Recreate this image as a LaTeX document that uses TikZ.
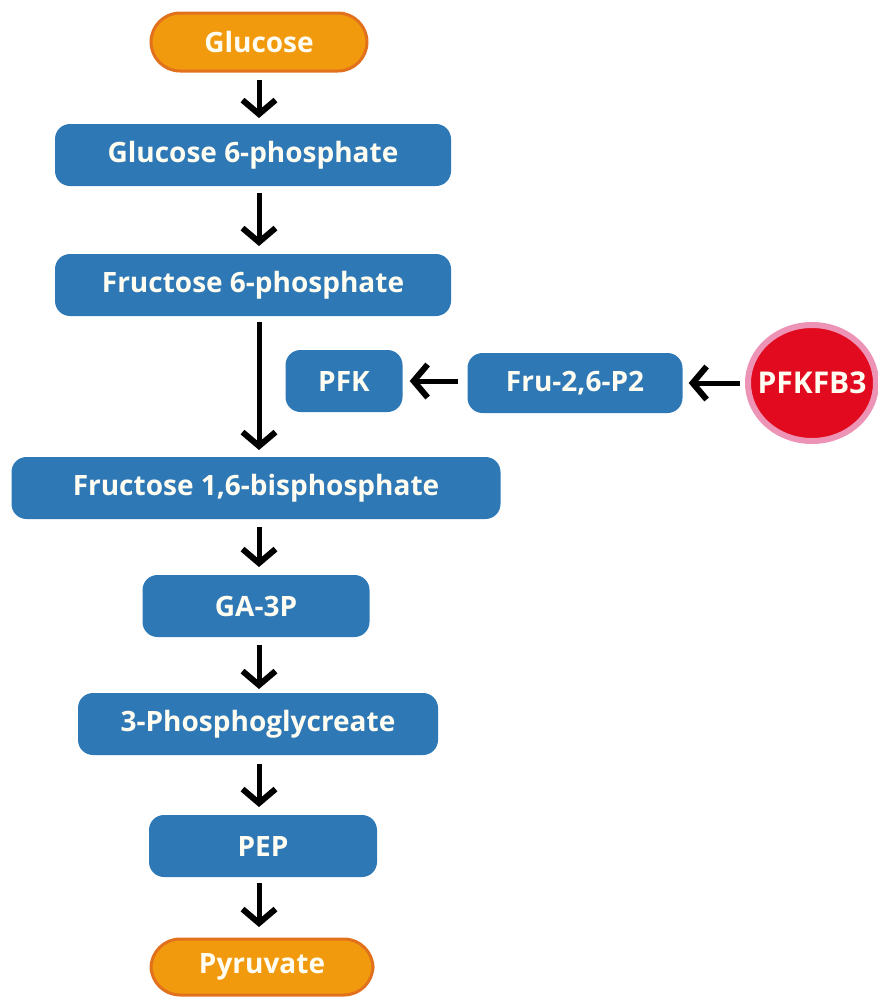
\documentclass[tikz,border=0pt]{standalone}
\usepackage{fontspec}
\setmainfont{Open Sans}
\usetikzlibrary{arrows.meta,shapes.geometric}
\definecolor{boxblue}{HTML}{2E78B5}
\definecolor{orfill}{HTML}{F29A0E}
\definecolor{ordraw}{HTML}{E2711D}
\definecolor{redfill}{HTML}{E20A1E}
\definecolor{pinkdraw}{HTML}{EC93B6}
\definecolor{txt}{HTML}{FFFDF2}
\tikzset{
  base/.style={font=\bfseries\fontsize{28}{32}\selectfont, text=txt, inner sep=0pt, anchor=center},
  bluebox/.style={base, rectangle, fill=boxblue, rounded corners=15pt, minimum height=62pt},
  endbox/.style={base, rectangle, fill=orfill, draw=ordraw, line width=3pt, rounded corners=29pt, minimum height=58pt},
  enzyme/.style={base, font=\bfseries\fontsize{30}{34}\selectfont, ellipse, inner sep=-16pt, fill=redfill, draw=pinkdraw, line width=6pt, minimum width=128pt, minimum height=116pt},
  flow/.style={line width=5pt, -{Straight Barb[length=14pt,width=33pt,line width=6pt]}}
}
\begin{document}
\begin{tikzpicture}[x=1pt,y=-1pt]
\useasboundingbox (0,0) rectangle (878,997);
\node[endbox, minimum width=216pt] (glc) at (259,42) {Glucose};
\node[bluebox, minimum width=396pt] (g6p) at (253,155) {Glucose 6-phosphate};
\node[bluebox, minimum width=396pt] (f6p) at (253,285) {Fructose 6-phosphate};
\node[bluebox, minimum width=117pt] (pfk) at (344,381) {PFK};
\node[bluebox, minimum width=215pt, minimum height=60pt] (fru) at (575,383) {Fru-2,6-P2};
\node[enzyme] (pfkfb) at (812,383) {PFKFB3};
\node[bluebox, minimum width=489pt] (f16) at (256,488) {Fructose 1,6-bisphosphate};
\node[bluebox, minimum width=227pt] (ga3p) at (256,606) {GA-3P};
\node[bluebox, minimum width=360pt] (pg) at (258,724) {3-Phosphoglycreate};
\node[bluebox, minimum width=228pt] (pep) at (263,846) {PEP};
\node[endbox, minimum width=222pt, minimum height=56pt] (pyr) at (262,967) {Pyruvate};

\coordinate (a1s) at (259,80);  \coordinate (a1e) at (259,118);
\coordinate (a2s) at (259,193); \coordinate (a2e) at (259,246);
\coordinate (a3s) at (259,322); \coordinate (a3e) at (259,450);
\coordinate (a4s) at (259,527); \coordinate (a4e) at (259,567);
\coordinate (a5s) at (259,645); \coordinate (a5e) at (259,689);
\coordinate (a6s) at (259,764); \coordinate (a6e) at (259,807);
\coordinate (a7s) at (259,883); \coordinate (a7e) at (259,927);
\draw[flow] (a1s) -- (a1e);
\draw[flow] (a2s) -- (a2e);
\draw[flow] (a3s) -- (a3e);
\draw[flow] (a4s) -- (a4e);
\draw[flow] (a5s) -- (a5e);
\draw[flow] (a6s) -- (a6e);
\draw[flow] (a7s) -- (a7e);
\draw[flow] ([xshift=-9pt]fru.west |- pfk) -- ([xshift=7pt]pfk.east);
\draw[flow] ([xshift=-5pt]pfkfb.west) -- ([xshift=6pt]fru.east |- pfkfb);
\end{tikzpicture}
\end{document}
